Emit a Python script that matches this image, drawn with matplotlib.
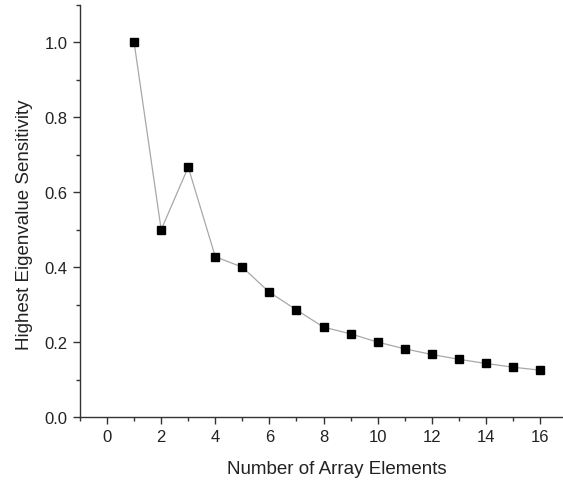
import matplotlib
matplotlib.use("Agg")
import matplotlib.pyplot as plt
from matplotlib.ticker import MultipleLocator

elements = [1, 2, 3, 4, 5, 6, 7, 8, 9, 10, 11, 12, 13, 14, 15, 16]
sensitivity = [1.0, 0.5, 0.667, 0.428, 0.4, 0.333, 0.286, 0.24, 0.222, 0.2,
               0.182, 0.167, 0.154, 0.143, 0.133, 0.125]

plt.rcParams['font.family'] = ['Liberation Sans', 'DejaVu Sans']
fig = plt.figure(figsize=(5.63, 4.81), dpi=100)
ax = fig.add_axes([80/563, 63/481, (563-80)/563, (418-6)/481])

ax.plot(elements, sensitivity, color='#a8a8a8', linewidth=0.9,
        marker='s', markersize=6.3, markerfacecolor='black',
        markeredgecolor='black', zorder=3)

ax.set_xlim(-1, 16.85)
ax.set_ylim(0, 1.1)
ax.xaxis.set_major_locator(MultipleLocator(2))
ax.xaxis.set_minor_locator(MultipleLocator(1))
ax.yaxis.set_minor_locator(MultipleLocator(0.1))
ax.set_yticks([0.0, 0.2, 0.4, 0.6, 0.8, 1.0])
ax.set_yticklabels(['0.0', '0.2', '0.4', '0.6', '0.8', '1.0'])

for s in ['top', 'right']:
    ax.spines[s].set_visible(False)
for s in ['left', 'bottom']:
    ax.spines[s].set_color('#333333')
    ax.spines[s].set_linewidth(1.0)

ax.tick_params(which='major', direction='out', length=5, width=1.0,
               labelsize=12, colors='#333333', labelcolor='#222222', pad=4)
ax.tick_params(which='minor', direction='out', length=3, width=1.0, colors='#333333')

ax.set_xlabel('Number of Array Elements', fontsize=13.5, color='#222222')
ax.set_ylabel('Highest Eigenvalue Sensitivity', fontsize=13.5, color='#222222')
ax.xaxis.set_label_coords(0.531, -0.104)
ax.yaxis.set_label_coords(-0.097, 0.468)

fig.savefig('out.png', dpi=100)
